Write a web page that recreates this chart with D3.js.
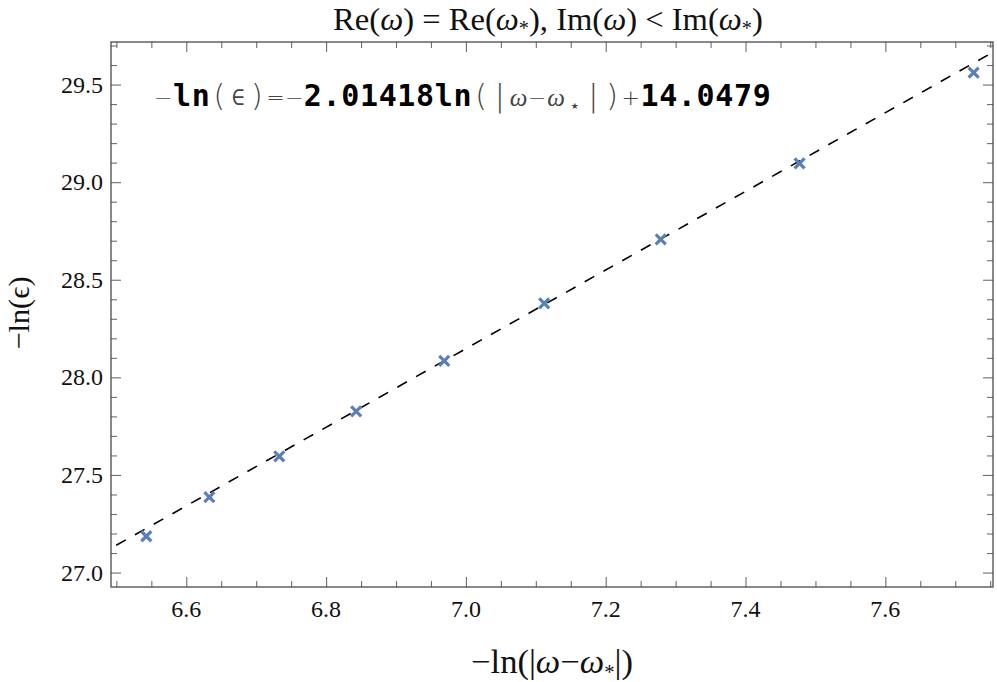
<!DOCTYPE html>
<html>
<head>
<meta charset="utf-8">
<script src="https://cdn.jsdelivr.net/npm/d3@7"></script>
<style>
  html, body { margin: 0; padding: 0; background: #fff; }
  svg { display: block; }
  .serif { font-family: "Liberation Serif", "Times New Roman", Times, serif; }
  .mono { font-family: "DejaVu Sans Mono", monospace; }
  .thin { font-family: "DejaVu Sans", "DejaVu Sans Mono", sans-serif; font-weight: 200; }
</style>
</head>
<body>
<svg id="chart" width="997" height="682"></svg>
<script>
// ---- data ----
const xValues = [6.5428, 6.6330, 6.7330, 6.8430, 6.9690, 7.1120, 7.2787, 7.4773, 7.7263];
const yValues = [27.186, 27.386, 27.595, 27.826, 28.085, 28.379, 28.707, 29.096, 29.561];
const fitSlope = 2.01418;
const fitIntercept = 14.0479;
const xMajorTicks = [6.6, 6.8, 7.0, 7.2, 7.4, 7.6];
const xMinorTicks = [6.5, 6.55, 6.65, 6.7, 6.75, 6.85, 6.9, 6.95, 7.05, 7.1, 7.15, 7.25, 7.3, 7.35, 7.45, 7.5, 7.55, 7.65, 7.7, 7.75];
const yMajorTicks = [27.0, 27.5, 28.0, 28.5, 29.0, 29.5];
const yMinorTicks = [27.1, 27.2, 27.3, 27.4, 27.6, 27.7, 27.8, 27.9, 28.1, 28.2, 28.3, 28.4, 28.6, 28.7, 28.8, 28.9, 29.1, 29.2, 29.3, 29.4, 29.6, 29.7];
const xDomain = [6.4923, 7.7540];
const yDomain = [26.926, 29.718];

(function () {
const pL = 111, pR = 993, pT = 42, pB = 587;
const svg = d3.select("#chart");
const x = d3.scaleLinear().domain(xDomain).range([pL, pR]);
const y = d3.scaleLinear().domain(yDomain).range([pB, pT]);

const tickColor = "#6e6e6e";
const frameColor = "#4a4a4a";

function fitWidth(sel, target) {
  const n = sel.node();
  const fs = parseFloat(sel.attr("font-size"));
  const w = n.getComputedTextLength();
  if (w > 0) {
    const k = target / w;
    sel.attr("font-size", fs * k);
    sel.selectAll("tspan").each(function () {
      const t = d3.select(this);
      if (t.attr("font-size")) t.attr("font-size", parseFloat(t.attr("font-size")) * k);
      if (t.attr("dy")) t.attr("dy", parseFloat(t.attr("dy")) * k);
    });
  }
}

function addAxis(gen, transform, vals, size) {
  const g = svg.append("g").attr("transform", transform)
    .call(gen.tickValues(vals).tickSize(size).tickSizeOuter(0).tickFormat(""));
  g.select(".domain").remove();
  g.selectAll(".tick line").attr("stroke", tickColor).attr("stroke-width", 1.1);
  return g;
}
addAxis(d3.axisTop(x), `translate(0,${pB})`, xMajorTicks, 10);
addAxis(d3.axisTop(x), `translate(0,${pB})`, xMinorTicks, 6);
addAxis(d3.axisBottom(x), `translate(0,${pT})`, xMajorTicks, 10);
addAxis(d3.axisBottom(x), `translate(0,${pT})`, xMinorTicks, 6);
addAxis(d3.axisRight(y), `translate(${pL},0)`, yMajorTicks, 10);
addAxis(d3.axisRight(y), `translate(${pL},0)`, yMinorTicks, 6);
addAxis(d3.axisLeft(y), `translate(${pR},0)`, yMajorTicks, 10);
addAxis(d3.axisLeft(y), `translate(${pR},0)`, yMinorTicks, 6);

// tick labels
svg.append("g").selectAll("text").data(xMajorTicks).join("text")
  .attr("class", "serif")
  .attr("x", d => x(d)).attr("y", pB + 30)
  .attr("text-anchor", "middle")
  .attr("font-size", 24).attr("fill", "#111")
  .text(d => d3.format(".1f")(d));
svg.append("g").selectAll("text").data(yMajorTicks).join("text")
  .attr("class", "serif")
  .attr("x", pL - 8).attr("y", d => y(d) + 8)
  .attr("text-anchor", "end")
  .attr("font-size", 24).attr("fill", "#111")
  .text(d => d3.format(".1f")(d));

// frame
svg.append("rect").attr("x", pL).attr("y", pT)
  .attr("width", pR - pL).attr("height", pB - pT)
  .attr("fill", "none").attr("stroke", frameColor).attr("stroke-width", 1.3);

svg.append("clipPath").attr("id", "clip").append("rect")
  .attr("x", pL).attr("y", pT).attr("width", pR - pL).attr("height", pB - pT);

// fit line
const fitPts = xDomain.map(v => [v, fitSlope * v + fitIntercept]);
svg.append("path").attr("clip-path", "url(#clip)")
  .attr("d", d3.line().x(d => x(d[0])).y(d => y(d[1]))(fitPts))
  .attr("fill", "none").attr("stroke", "#000").attr("stroke-width", 1.6)
  .attr("stroke-dasharray", "11,10.5").attr("stroke-dashoffset", -6);

// markers
const pts = xValues.map((v, i) => [v, yValues[i]]);
const r = 5;
const mk = svg.append("g").attr("stroke", "#5b7fbb").attr("stroke-width", 3.2);
mk.selectAll("path").data(pts).join("path")
  .attr("d", d => {
    const cx = x(d[0]), cy = y(d[1]);
    return `M${cx - r},${cy - r}L${cx + r},${cy + r}M${cx - r},${cy + r}L${cx + r},${cy - r}`;
  });

// title
const title = svg.append("text").attr("class", "serif").attr("x", 548).attr("y", 30)
  .attr("text-anchor", "middle").attr("font-size", 24).attr("fill", "#111");
function addOmegaStar(t) {
  t.append("tspan").attr("font-style", "italic").text("ω");
  t.append("tspan").attr("font-size", 15).attr("dy", 4).text("*");
  t.append("tspan").attr("dy", -4).text(")");
}
title.append("tspan").text("Re(");
title.append("tspan").attr("font-style", "italic").text("ω");
title.append("tspan").text(") = Re(");
addOmegaStar(title);
title.append("tspan").text(", Im(");
title.append("tspan").attr("font-style", "italic").text("ω");
title.append("tspan").text(") < Im(");
addOmegaStar(title);
fitWidth(title, 430);

// equation (monospace cells): 0 thin symbol, 1 bold, 2 omega, 3 subscript star
const eqChars = [
  ["−", 0], ["l", 1], ["n", 1], ["(", 0], ["∈", 0], [")", 0], ["=", 0], ["−", 0],
  ["2", 1], [".", 1], ["0", 1], ["1", 1], ["4", 1], ["1", 1], ["8", 1], ["l", 1], ["n", 1],
  ["(", 0], ["|", 0], ["ω", 2], ["−", 0], ["ω", 2], ["⋆", 3], ["|", 0], [")", 0], ["+", 0],
  ["1", 1], ["4", 1], [".", 1], ["0", 1], ["4", 1], ["7", 1], ["9", 1]
];
const smallSym = { "−": 22, "=": 22, "+": 22, "∈": 22 };
const cell = 18.7, c0 = 163.3, eqBase = 106;
const eq = svg.append("g").attr("text-anchor", "middle");
eqChars.forEach((c, i) => {
  const kind = c[1];
  let fs = 30, dy = 0;
  if (kind === 0 && smallSym[c[0]]) { fs = smallSym[c[0]]; dy = c[0] === "∈" ? -1 : -1; }
  if (kind === 2) fs = 25;
  if (kind === 3) { fs = 20; dy = 7; }
  const t = eq.append("text")
    .attr("class", kind === 1 ? "mono" : kind === 2 ? "serif" : "thin")
    .attr("x", c0 + i * cell).attr("y", eqBase + dy)
    .attr("font-size", fs)
    .attr("fill", kind === 1 ? "#000" : "#444")
    .text(c[0]);
  if (kind === 1) t.attr("font-weight", "bold");
  if (kind === 2) t.attr("font-style", "italic");
});

// axis labels
const xl = svg.append("text").attr("class", "serif").attr("x", 552).attr("y", 673)
  .attr("text-anchor", "middle").attr("font-size", 30).attr("fill", "#111");
xl.append("tspan").text("−ln(|");
xl.append("tspan").attr("font-style", "italic").text("ω");
xl.append("tspan").text("−");
xl.append("tspan").attr("font-style", "italic").text("ω");
xl.append("tspan").attr("font-size", 18).attr("dy", 5).text("*");
xl.append("tspan").attr("dy", -5).text("|)");
fitWidth(xl, 162);

const yl = svg.append("text").attr("class", "serif").attr("transform", "translate(29,313) rotate(-90)")
  .attr("text-anchor", "middle").attr("font-size", 30).attr("fill", "#111")
  .text("−ln(ϵ)");
fitWidth(yl, 73);
})();
</script>
</body>
</html>
